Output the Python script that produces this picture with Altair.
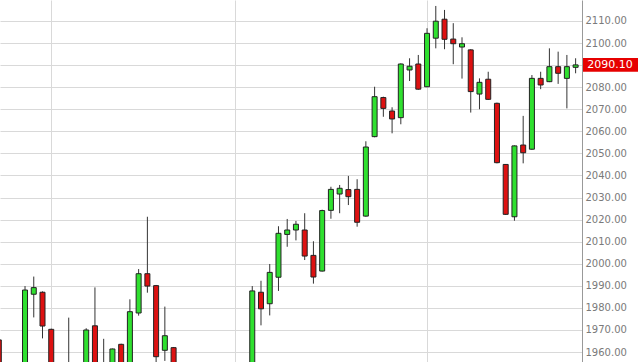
import altair as alt
import pandas as pd

# OHLC values (candles fully below the visible range are estimates)
opens = [1965.5, 1947, 1936, 1946, 1986.2, 1987.1, 1970.3, 1948, 1942, 1950,
         1944, 1971.9, 1951, 1945, 1963.5, 1950, 1977.7, 1995.5, 1990.1, 1960.8,
         1962.0, 1941, 1931, 1940, 1947, 1936, 1921, 1934, 1945, 1942,
         1987.1, 1981.9, 1993.9, 2013.3, 2015.3, 2015.3, 2003.8, 1996.7, 2024.2, 2031.6,
         2033.6, 2033.7, 2021.6, 2057.6, 2075.3, 2069.2, 2066.2, 2087.8, 2090.5, 2080.2,
         2102.2, 2110.8, 2101.8, 2098.2, 2096.9, 2076.9, 2083.6, 2072.7, 2045.0, 2021.3,
         2053.8, 2051.9, 2084.0, 2082.5, 2089.3, 2084.0, 2089.0]
highs = [1966.0, 1952, 1950, 1989.9, 1994.2, 1987.5, 1970.6, 1953, 1975.6, 1954,
         1970.8, 1989.3, 1966.0, 1961.6, 1963.8, 1983.9, 1997.6, 2021.3, 1990.4, 1980.6,
         1962.3, 1950, 1945, 1952, 1953, 1944, 1938, 1950, 1954, 1989.9,
         1992.3, 1999.9, 2017.0, 2020.3, 2019.4, 2022.9, 2010.2, 2024.5, 2034.9, 2035.7,
         2039.8, 2038.3, 2055.5, 2080.2, 2075.7, 2070.9, 2090.8, 2093.1, 2094.6, 2106.7,
         2116.8, 2115.0, 2109.0, 2102.6, 2097.2, 2084.0, 2087.0, 2073.0, 2045.2, 2053.6,
         2067.0, 2085.5, 2087.0, 2097.6, 2096.1, 2094.6, 2093.1]
lows = [1940, 1930, 1925, 1944, 1975.7, 1966.2, 1940, 1935, 1938, 1940,
        1942, 1945, 1940, 1943, 1945, 1948, 1976.5, 1986.9, 1953, 1956,
        1935, 1925, 1920, 1933, 1930, 1915, 1912, 1928, 1936, 1940,
        1972.1, 1976.6, 1987.7, 2007.7, 2010.6, 2001.7, 1991.0, 1996.5, 2020.4, 2022.9,
        2026.6, 2016.8, 2021.3, 2057.3, 2066.6, 2059.1, 2063.2, 2082.8, 2078.8, 2080.0,
        2097.6, 2097.2, 2090.4, 2083.9, 2068.5, 2070.0, 2074.2, 2045.5, 2022.1, 2019.5,
        2045.5, 2051.6, 2079.1, 2082.3, 2081.5, 2070.4, 2086.3]
closes = [1948, 1935, 1945, 1988.1, 1989.2, 1971.8, 1950, 1940, 1950, 1945,
          1970.0, 1950, 1946, 1961.4, 1950, 1978.3, 1995.5, 1989.9, 1957.9, 1967.4,
          1940, 1930, 1940, 1948, 1935, 1920, 1935, 1946, 1941, 1987.7,
          1979.6, 1996.1, 2013.8, 2015.3, 2017.9, 2003.5, 1994.0, 2024.1, 2033.7, 2034.2,
          2030.4, 2018.8, 2052.9, 2075.7, 2070.4, 2065.6, 2090.5, 2089.5, 2079.1, 2104.4,
          2109.9, 2101.7, 2099.7, 2099.7, 2078.0, 2082.2, 2074.5, 2045.8, 2022.4, 2053.4,
          2050.3, 2084.0, 2081.0, 2089.3, 2086.3, 2089.3, 2090.1]
month_starts = [6, 27, 49]
y_ticks = [1960, 1970, 1980, 1990, 2000, 2010, 2020, 2030, 2040, 2050,
           2060, 2070, 2080, 2090, 2100, 2110]
last_price = 2090.10

df = pd.DataFrame({
    "i": list(range(len(opens))),
    "open": opens, "high": highs, "low": lows, "close": closes,
})
df["dir"] = ["up" if c >= o else "down" for o, c in zip(opens, closes)]

xs = alt.Scale(domain=[0.137, 66.73], nice=False, zero=False, padding=0)
ys = alt.Scale(domain=[1955.5, 2119.5], nice=False, zero=False, padding=0)

x_axis = alt.Axis(values=month_starts, grid=True, labels=False, ticks=False, domain=False,
                  title=None, gridColor="#d9d9d9", gridWidth=1, zindex=0)
y_axis = alt.Axis(
    orient="right", values=y_ticks, format=".2f", title=None,
    labelExpr="datum.value == 2090 ? '' : format(datum.value, '.2f')",
    grid=True, gridColor="#d9d9d9", gridWidth=1,
    ticks=False, tickSize=0, labelPadding=3,
    domainColor="#999999", domainWidth=1,
    labelFont="DejaVu Sans", labelFontSize=10, labelColor="#7a7a7a", zindex=0)

base = alt.Chart(df)

wicks = base.mark_rule(color="#333333", strokeWidth=1, clip=True).encode(
    x=alt.X("i:Q", scale=xs, axis=x_axis),
    y=alt.Y("low:Q", scale=ys, axis=y_axis),
    y2="high:Q",
)

bodies = base.mark_bar(size=5, stroke="#222222", strokeWidth=1, clip=True).encode(
    x=alt.X("i:Q", scale=xs, axis=x_axis),
    y=alt.Y("open:Q", scale=ys, axis=y_axis),
    y2="close:Q",
    color=alt.Color("dir:N", scale=alt.Scale(domain=["up", "down"],
                                             range=["#2fe02f", "#dd1111"]), legend=None),
)

tag = alt.Chart(pd.DataFrame({"p": [last_price]}))
tag_box = tag.mark_rect(color="#e60000").encode(
    x=alt.value(583), x2=alt.value(638),
    y=alt.Y("lo:Q", scale=ys, axis=y_axis), y2="hi:Q",
).transform_calculate(lo="datum.p - 3.1", hi="datum.p + 3.1")
tag_text = tag.mark_text(color="white", font="DejaVu Sans", fontSize=11,
                         align="center", baseline="middle").encode(
    x=alt.value(610),
    y=alt.Y("p:Q", scale=ys, axis=y_axis),
    text=alt.Text("p:Q", format=".2f"),
)

chart = alt.layer(wicks, bodies, tag_box, tag_text).properties(
    width=582, height=362,
    padding={"left": 0, "top": 0, "right": 58, "bottom": 0},
    autosize="none", background="white",
).configure_view(stroke=None)

chart.save("out.html", embed_options={"renderer": "svg", "actions": False})
